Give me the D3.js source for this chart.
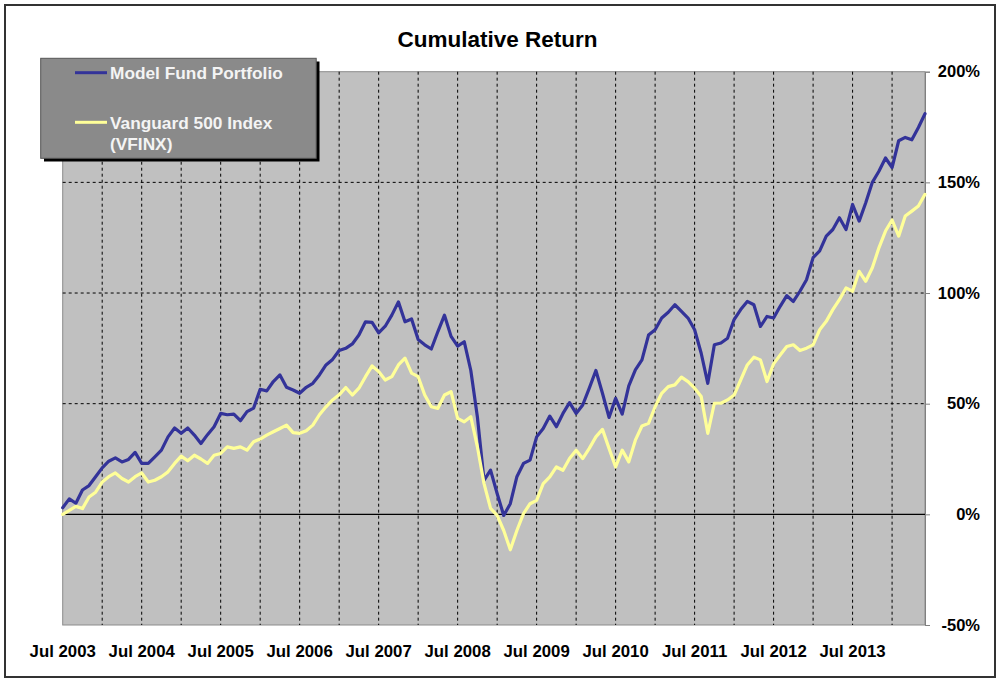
<!DOCTYPE html>
<html><head><meta charset="utf-8">
<script src="https://cdn.jsdelivr.net/npm/d3@7"></script>
<style>body{margin:0;background:#fff}svg{display:block}text{font-family:"Liberation Sans",Arial,sans-serif;font-weight:bold}</style>
</head><body><svg id="c" width="1000" height="684"></svg>
<script>
const months = d3.timeMonths(new Date(2003,6,1), new Date(2014,6,1)).map(d3.timeFormat("%b %Y"));
const modelFund = [
3, 7, 5, 11, 13, 17, 21, 24, 25.5, 23.7,
24.8, 28, 23, 23, 26, 29, 35, 39, 36.6, 39,
35.8, 32, 36, 39.6, 45.6, 45, 45.3, 42.3, 46.4, 48,
56.5, 55.8, 60, 63, 57.4, 56.2, 54.7, 57.4, 59.2, 63,
67.5, 70, 74, 75, 77, 81, 87, 86.7, 82, 85,
90, 96, 87, 88.3, 79, 76.6, 74.7, 82.6, 90, 80.4,
76, 78, 65, 44, 15.4, 20, 9.4, -0.5, 4.8, 17,
23, 24.5, 35, 38.8, 44.4, 39.6, 45.6, 50.5, 45.6, 49.4,
57, 65, 54.7, 43.8, 52.4, 45.3, 58, 65.3, 69.8, 81,
83.4, 88.7, 91.3, 94.7, 91.7, 88.7, 83.4, 72.8, 59.2, 76.6,
77.4, 79.6, 88, 92.5, 96.2, 94.7, 84.9, 89.4, 88.7, 94,
98.8, 96.2, 100.8, 106, 116, 119, 125.7, 128.7, 134, 128.7,
140, 132.5, 140.8, 150, 155, 161, 156.7, 168.8, 170.3, 169.2,
174.8, 181];
const vanguard = [
0, 1.8, 3.6, 2.6, 7.8, 10, 14.6, 17, 18.7, 16.2,
14.6, 17, 18.7, 14.6, 15.4, 17, 19.2, 23, 26.3, 24.2,
26.7, 25, 23, 26.7, 27.5, 30.5, 29.8, 30.5, 29, 32.8,
34, 35.8, 37.3, 38.8, 40.3, 36.9, 36.6, 37.8, 40.3, 45,
48.6, 51.7, 54, 57.3, 53.9, 57, 62.2, 67.1, 64.5, 60.7,
62.2, 67.5, 70.6, 63.8, 62.2, 53.9, 48.6, 47.9, 53.9, 55.4,
43.4, 41.8, 44.1, 30.5, 14, 2.7, -0.5, -7.3, -16, -7.3,
0.3, 4.8, 6.3, 13.9, 16.9, 21.4, 19.9, 25.2, 29, 25.2,
29.8, 35, 38.4, 29.8, 21.4, 29, 23.7, 33.5, 39.9, 41.1,
48.6, 54.7, 57.7, 58.5, 62, 60, 57, 53.2, 36.6, 50.2,
50.2, 51.7, 53.9, 60.7, 67.5, 71, 69.8, 60, 68, 72,
75.8, 76.6, 74, 75.1, 76.6, 83.4, 87.2, 92.5, 97, 102.3,
100.8, 109.8, 105.3, 111.4, 120.4, 128, 133, 125.7, 134.8, 137,
139.3, 144.6];
const yTicks = [-50, 0, 50, 100, 150, 200];
const xLabels = ["Jul 2003","Jul 2004","Jul 2005","Jul 2006","Jul 2007","Jul 2008","Jul 2009","Jul 2010","Jul 2011","Jul 2012","Jul 2013"];
const seriesNames = ["Model Fund Portfolio", ["Vanguard 500 Index", "(VFINX)"]];
const colors = ["#333399", "#ffff99"];

const svg = d3.select("#c");
const L = 62.7, R = 925, T = 71.7, B = 625;
const x = d3.scalePoint().domain(months).range([L, R]);
const y = d3.scaleLinear().domain([-50, 200]).range([B, T]);

svg.append("rect").attr("x",5).attr("y",5).attr("width",990).attr("height",672)
  .attr("fill","#fff").attr("stroke","#333").attr("stroke-width",2);

svg.append("text").attr("x",497.5).attr("y",47).attr("text-anchor","middle")
  .attr("font-size","22.5px").attr("fill","#000").text("Cumulative Return");

svg.append("rect").attr("x",L).attr("y",T).attr("width",R-L).attr("height",B-T)
  .attr("fill","#c0c0c0").attr("stroke","#8c8c8c").attr("stroke-width",1);

const vg = months.filter((d,i)=> i>0 && i%6===0);
svg.append("g").selectAll("line").data(vg).join("line")
  .attr("x1",d=>x(d)).attr("x2",d=>x(d)).attr("y1",T).attr("y2",B)
  .attr("stroke","#000").attr("stroke-width",1).attr("stroke-dasharray","3,3");
svg.append("g").selectAll("line").data(yTicks.filter(v=>v!==0 && v!==-50 && v!==200)).join("line")
  .attr("x1",L).attr("x2",R).attr("y1",d=>y(d)).attr("y2",d=>y(d))
  .attr("stroke","#000").attr("stroke-width",1).attr("stroke-dasharray","3,3");
svg.append("line").attr("x1",L).attr("x2",R).attr("y1",y(0)).attr("y2",y(0))
  .attr("stroke","#000").attr("stroke-width",1.2);

const ax = svg.append("g").attr("transform",`translate(${R},0)`)
  .call(d3.axisRight(y).tickValues(yTicks).tickSize(5).tickFormat(d=>d+"%"));
ax.select(".domain").attr("stroke","#808080");
ax.selectAll(".tick line").attr("stroke","#808080");
ax.selectAll(".tick text").attr("text-anchor","end").attr("x",55)
  .attr("font-size","16.5px").attr("fill","#000")
  .style("font-family",'"Liberation Sans",Arial,sans-serif').style("font-weight","bold");

svg.append("g").selectAll("text").data(xLabels).join("text")
  .attr("x",d=>x(d)).attr("y",657).attr("text-anchor","middle")
  .attr("font-size","16.8px").attr("fill","#000").text(d=>d);

const line = d3.line().x((d,i)=>x(months[i])).y(d=>y(d)).curve(d3.curveLinear);
[modelFund, vanguard].forEach((s,k)=>{
  svg.append("path").datum(s).attr("d",line).attr("fill","none")
    .attr("stroke",colors[k]).attr("stroke-width",3.2)
    .attr("stroke-linejoin","round").attr("stroke-linecap","round");
});

const lg = svg.append("g");
lg.append("rect").attr("x",44).attr("y",61.5).attr("width",275.5).attr("height",100).attr("fill","#000");
lg.append("rect").attr("x",40.7).attr("y",58.3).attr("width",275.5).attr("height",100)
  .attr("fill","#8a8a8a").attr("stroke","#555").attr("stroke-width",1);
const ly = [72.7, 122.3];
ly.forEach((yy,k)=>{
  lg.append("line").attr("x1",75).attr("x2",107).attr("y1",yy).attr("y2",yy)
    .attr("stroke",colors[k]).attr("stroke-width",3);
});
lg.append("text").attr("x",110).attr("y",79).attr("font-size","17.3px").attr("fill","#f4f4f4").text(seriesNames[0]);
const t2 = lg.append("text").attr("x",110).attr("y",129).attr("font-size","17.3px").attr("fill","#f4f4f4");
t2.append("tspan").attr("x",110).text(seriesNames[1][0]);
t2.append("tspan").attr("x",110).attr("dy",20.5).text(seriesNames[1][1]);
</script></body></html>
